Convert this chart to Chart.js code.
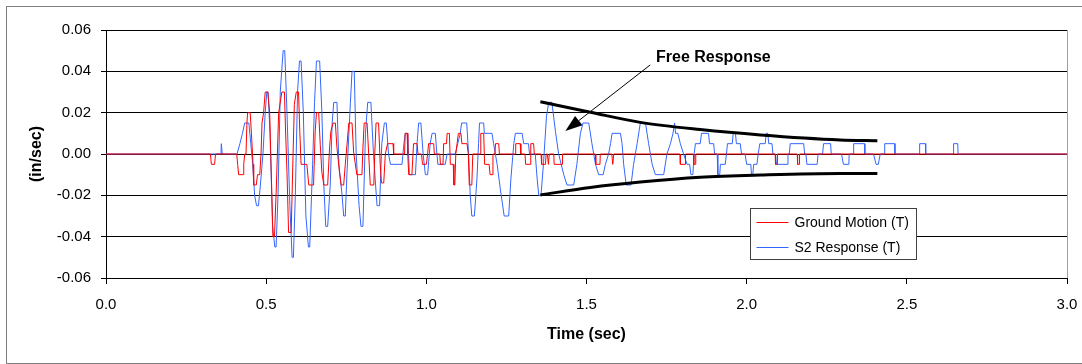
<!DOCTYPE html>
<html lang="en">
<head>
  <meta charset="UTF-8">
  <title>Free Response</title>
  <script src="https://cdn.jsdelivr.net/npm/chart.js"></script>
  <style>
    body { margin: 0; background: #fff; overflow: hidden; }
    .frame { position: absolute; left: 6px; top: 6px; width: 1100px; height: 356px; border: 1px solid #808080; }
    #chart { position: absolute; left: 0; top: 0; }
  </style>
</head>
<body>
  <div class="frame"></div>
  <canvas id="chart" width="1082" height="364"></canvas>

  <script>
    // Ground motion (T), breakpoints
    const groundTime = [0, 0.326, 0.329, 0.339, 0.342, 0.408, 0.411, 0.414, 0.428, 0.430, 0.433, 0.437, 0.440, 0.442, 0.450, 0.454, 0.459, 0.461, 0.469, 0.473,
      0.480, 0.484, 0.487, 0.492, 0.497, 0.505, 0.511, 0.513, 0.518, 0.521, 0.526, 0.532, 0.539, 0.546, 0.549, 0.557, 0.560, 0.565, 0.570, 0.578,
      0.584, 0.588, 0.594, 0.601, 0.605, 0.609, 0.627, 0.633, 0.648, 0.653, 0.657, 0.664, 0.669, 0.674, 0.680, 0.692, 0.698, 0.702, 0.709, 0.716,
      0.721, 0.729, 0.734, 0.742, 0.747, 0.752, 0.758, 0.768, 0.773, 0.783, 0.799, 0.802, 0.806, 0.815, 0.820, 0.825, 0.836, 0.839, 0.843, 0.851,
      0.856, 0.860, 0.867, 0.872, 0.879, 0.896, 0.898, 0.932, 0.934, 0.940, 0.942, 0.945, 0.955, 0.960, 0.971, 0.974, 0.985, 0.988, 1.000, 1.004,
      1.007, 1.023, 1.025, 1.042, 1.044, 1.052, 1.054, 1.063, 1.065, 1.072, 1.075, 1.084, 1.086, 1.089, 1.092, 1.096, 1.100, 1.108, 1.111, 1.127,
      1.131, 1.134, 1.142, 1.145, 1.168, 1.170, 1.179, 1.182, 1.196, 1.199, 1.205, 1.208, 1.214, 1.216, 1.226, 1.228, 1.277, 1.279, 1.293, 1.295,
      1.308, 1.310, 1.324, 1.326, 1.335, 1.337, 1.358, 1.360, 1.372, 1.374, 1.378, 1.381, 1.384, 1.398, 1.399, 1.424, 1.425, 1.528, 1.529, 1.542,
      1.543, 1.579, 1.582, 1.585, 1.792, 1.793, 1.808, 1.809, 1.834, 1.835, 1.840, 1.841, 2.089, 2.090, 2.095, 2.096, 2.158, 2.159, 2.164, 2.165, 3.0];
    const groundVel = [0, 0, -0.005, -0.005, 0, 0, -0.005, -0.01, -0.01, -0.005, 0, 0, 0.015, 0.02, 0.02, 0.01, -0.005, -0.015, -0.015, -0.01,
      -0.01, 0, 0.015, 0.02, 0.03, 0.03, 0.02, 0.008, -0.021, -0.04, -0.04, -0.015, 0.02, 0.027, 0.03, 0.03, 0.014, -0.009, -0.038, -0.038,
      0, 0.024, 0.03, 0.03, 0.011, -0.005, -0.005, -0.015, -0.015, 0.011, 0.02, 0.02, 0.004, -0.009, -0.015, -0.015, 0.003, 0.011, 0.015, 0.015,
      0.003, -0.009, -0.015, -0.015, -0.005, 0.004, 0.015, 0.015, 0.001, -0.01, -0.01, 0.003, 0.015, 0.015, 0, -0.015, -0.015, 0, 0.015, 0.015,
      -0.005, -0.014, -0.014, 0, 0.005, 0.005, 0, 0, 0.01, 0.01, 0, -0.01, -0.01, 0.005, 0.005, 0, 0, -0.005, -0.005, 0,
      0.005, 0.005, 0, 0, -0.005, -0.005, 0.005, 0.005, 0.01, 0.01, -0.005, -0.005, -0.015, -0.015, 0, 0.005, 0.01, 0.01, 0.005, 0.005,
      0, -0.015, -0.015, 0, 0, 0.01, 0.01, -0.005, -0.005, -0.01, -0.01, 0, 0, 0.005, 0.005, 0, 0, 0.005, 0.005, 0,
      0, -0.005, -0.005, 0.005, 0.005, 0, 0, -0.005, -0.005, 0, 0, -0.005, 0, 0, -0.005, -0.005, 0, 0, -0.005, -0.005,
      0, 0, -0.005, 0, 0, -0.005, -0.005, 0, 0, -0.005, -0.005, 0, 0, -0.005, -0.005, 0, 0, -0.005, -0.005, 0, 0];

    // S2 response (T)
    const responseTime = [0, 0.359, 0.360, 0.362, 0.363, 0.409, 0.418, 0.426, 0.433, 0.446, 0.452, 0.458, 0.464, 0.470, 0.476, 0.482, 0.490, 0.497, 0.502, 0.506,
      0.512, 0.520, 0.527, 0.531, 0.537, 0.544, 0.553, 0.558, 0.565, 0.574, 0.581, 0.585, 0.591, 0.598, 0.604, 0.609, 0.616, 0.624, 0.632, 0.636,
      0.645, 0.651, 0.657, 0.667, 0.674, 0.680, 0.686, 0.692, 0.700, 0.706, 0.711, 0.721, 0.727, 0.737, 0.742, 0.747, 0.752, 0.763, 0.768, 0.775,
      0.781, 0.790, 0.796, 0.802, 0.810, 0.817, 0.827, 0.835, 0.846, 0.854, 0.861, 0.869, 0.875, 0.882, 0.888, 0.924, 0.930, 0.934, 0.942, 0.947,
      0.966, 0.971, 0.976, 0.983, 0.990, 0.997, 1.004, 1.012, 1.018, 1.028, 1.033, 1.036, 1.059, 1.065, 1.090, 1.098, 1.106, 1.110, 1.126, 1.132,
      1.137, 1.142, 1.150, 1.158, 1.163, 1.166, 1.179, 1.181, 1.205, 1.210, 1.221, 1.231, 1.243, 1.257, 1.264, 1.273, 1.278, 1.299, 1.304, 1.319,
      1.322, 1.340, 1.346, 1.351, 1.358, 1.366, 1.375, 1.382, 1.392, 1.403, 1.413, 1.429, 1.439, 1.460, 1.470, 1.481, 1.489, 1.507, 1.517, 1.528,
      1.538, 1.552, 1.559, 1.569, 1.575, 1.580, 1.606, 1.611, 1.616, 1.624, 1.639, 1.647, 1.658, 1.668, 1.684, 1.694, 1.705, 1.715, 1.741, 1.751,
      1.762, 1.770, 1.775, 1.778, 1.785, 1.793, 1.803, 1.814, 1.822, 1.826, 1.832, 1.836, 1.840, 1.855, 1.859, 1.881, 1.884, 1.897, 1.900, 1.908,
      1.910, 1.916, 1.918, 1.933, 1.937, 1.940, 1.955, 1.958, 1.965, 1.968, 1.980, 1.984, 1.995, 2.000, 2.013, 2.015, 2.019, 2.022, 2.032, 2.036,
      2.041, 2.058, 2.061, 2.066, 2.069, 2.079, 2.082, 2.090, 2.093, 2.126, 2.129, 2.133, 2.136, 2.178, 2.181, 2.185, 2.188, 2.220, 2.223, 2.237,
      2.240, 2.262, 2.264, 2.296, 2.302, 2.319, 2.320, 2.333, 2.334, 2.368, 2.369, 2.396, 2.404, 2.411, 2.417, 2.430, 2.431, 2.462, 2.463, 2.539,
      2.540, 2.558, 2.559, 2.645, 2.646, 2.659, 2.660, 3.0];
    const responseVel = [0, 0, 0.005, 0.005, 0, 0, 0.005, 0.01, 0.015, 0.015, 0.005, -0.005, -0.02, -0.025, -0.025, -0.015, 0, 0.02, 0.03, 0.03,
      0.01, -0.035, -0.045, -0.045, -0.02, 0.03, 0.05, 0.05, 0.02, -0.025, -0.05, -0.05, -0.02, 0.03, 0.045, 0.045, 0.02, -0.03, -0.045, -0.045,
      -0.005, 0.025, 0.045, 0.045, 0.02, -0.015, -0.035, -0.035, -0.015, 0.015, 0.025, 0.025, -0.005, -0.02, -0.03, -0.03, -0.01, 0.025, 0.04, 0.04,
      0, -0.025, -0.035, -0.035, 0.01, 0.025, 0.025, 0, -0.025, -0.025, 0.005, 0.015, 0.015, 0, -0.005, -0.005, 0.005, 0.01, 0.01, -0.01,
      -0.01, 0.005, 0.015, 0.015, 0, -0.01, -0.01, 0.005, 0.01, 0.01, 0, -0.005, -0.005, 0, 0, 0.005, 0.01, 0.015, 0.015, 0,
      -0.02, -0.03, -0.03, -0.012, 0.005, 0.015, 0.015, 0.01, 0.01, 0.005, -0.005, -0.017, -0.03, -0.03, -0.012, 0.005, 0.01, 0.01, 0.005, 0.005,
      0, 0, -0.012, -0.02, -0.02, -0.004, 0.018, 0.025, 0.025, 0.011, 0, -0.01, -0.015, -0.015, -0.005, 0.01, 0.015, 0.015, 0.005, -0.005,
      -0.01, -0.01, -0.005, 0, 0.005, 0.01, 0.01, 0.005, -0.005, -0.015, -0.015, -0.005, 0.005, 0.015, 0.015, 0.005, -0.005, -0.01, -0.01, 0,
      0.005, 0.01, 0.015, 0.01, 0.01, 0.005, 0, -0.005, -0.005, -0.01, -0.01, 0, 0.005, 0.005, 0.01, 0.01, 0.005, 0.005, 0, 0,
      -0.01, -0.01, -0.005, -0.005, 0, 0.005, 0.005, 0.01, 0.01, 0.005, 0.005, 0, 0, -0.005, -0.005, -0.01, -0.01, -0.005, -0.005, 0,
      0.005, 0.005, 0.01, 0.01, 0.005, 0.005, 0, 0, -0.005, -0.005, 0, 0, 0.005, 0.005, 0, 0, -0.005, -0.005, 0, 0,
      0.005, 0.005, 0, 0, -0.005, -0.005, 0, 0, 0.005, 0.005, 0, 0, -0.005, -0.005, 0, 0, 0.005, 0.005, 0, 0,
      0.005, 0.005, 0, 0, 0.005, 0.005, 0, 0];

    // decay envelope drawn over the free response
    const envelopeTime = [1.356, 1.512, 1.668, 1.855, 2.043, 2.292, 2.408];
    const envelopeUpper = [0.0253, 0.0202, 0.0153, 0.0118, 0.0092, 0.0068, 0.0064];
    const envelopeLower = [-0.0198, -0.0162, -0.0136, -0.0113, -0.0102, -0.0094, -0.0094];

    // annotation: label position and arrow (start -> tip), in data units
    const noteText = 'Free Response';
    const notePos = [1.896, 0.0465];
    const arrowFrom = [1.699, 0.0431];
    const arrowTo = [1.434, 0.0111];

    const xTicks = [0, 3, 0.5];     // min, max, step
    const yTicks = [-0.06, 0.06, 0.02];

    const FONT = "'Liberation Sans', Arial, sans-serif";

    const pts = (xs, ys) => xs.map((x, i) => ({ x: x, y: ys[i] }));

    // frame line on right of the plot area + legend box + arrow label
    const extras = {
      id: 'extras',
      beforeDatasetsDraw(chart) {
        const { ctx, chartArea } = chart;
        ctx.save();
        ctx.strokeStyle = '#a0a0a0';
        ctx.lineWidth = 1;
        ctx.beginPath();
        ctx.moveTo(Math.round(chartArea.right) + 0.5, chartArea.top);
        ctx.lineTo(Math.round(chartArea.right) + 0.5, chartArea.bottom);
        ctx.stroke();
        ctx.restore();
      },
      afterDatasetsDraw(chart) {
        const { ctx, scales } = chart;
        const xs = scales.x, ys = scales.y;
        ctx.save();

        // arrow
        const x0 = xs.getPixelForValue(arrowFrom[0]), y0 = ys.getPixelForValue(arrowFrom[1]);
        const x1 = xs.getPixelForValue(arrowTo[0]), y1 = ys.getPixelForValue(arrowTo[1]);
        const ang = Math.atan2(y1 - y0, x1 - x0);
        const headLen = 17, headW = 6;
        const bx = x1 - headLen * Math.cos(ang), by = y1 - headLen * Math.sin(ang);
        ctx.strokeStyle = '#000';
        ctx.fillStyle = '#000';
        ctx.lineWidth = 1;
        ctx.beginPath();
        ctx.moveTo(x0, y0);
        ctx.lineTo(bx, by);
        ctx.stroke();
        ctx.beginPath();
        ctx.moveTo(x1, y1);
        ctx.lineTo(bx + headW * Math.sin(ang), by - headW * Math.cos(ang));
        ctx.lineTo(bx - headW * Math.sin(ang), by + headW * Math.cos(ang));
        ctx.closePath();
        ctx.fill();

        // label
        ctx.font = 'bold 16px ' + FONT;
        ctx.textAlign = 'center';
        ctx.textBaseline = 'middle';
        ctx.fillText(noteText, xs.getPixelForValue(notePos[0]), ys.getPixelForValue(notePos[1]));

        // legend
        const items = chart.data.datasets.filter(d => d.showInLegend);
        ctx.font = '14px ' + FONT;
        const textW = Math.max(...items.map(d => ctx.measureText(d.label).width));
        const lx = 750.5, ly = 208.5, rowH = 25.6;
        const boxW = Math.round(44 + textW + 8), boxH = 51;
        ctx.fillStyle = '#fff';
        ctx.fillRect(lx, ly, boxW, boxH);
        ctx.strokeStyle = '#404040';
        ctx.strokeRect(lx, ly, boxW, boxH);
        ctx.textAlign = 'left';
        items.forEach((d, i) => {
          const yy = ly + 13.2 + i * rowH;
          ctx.strokeStyle = d.borderColor;
          ctx.lineWidth = 1;
          ctx.beginPath();
          ctx.moveTo(lx + 6, Math.round(yy) + 0.5);
          ctx.lineTo(lx + 38, Math.round(yy) + 0.5);
          ctx.stroke();
          ctx.fillStyle = '#000';
          ctx.fillText(d.label, lx + 44, yy + 1);
        });
        ctx.restore();
      }
    };

    new Chart(document.getElementById('chart'), {
      type: 'line',
      data: {
        datasets: [
          {
            label: 'Upper envelope', data: pts(envelopeTime, envelopeUpper),
            borderColor: '#000', borderWidth: 3, cubicInterpolationMode: 'monotone', order: 0
          },
          {
            label: 'Lower envelope', data: pts(envelopeTime, envelopeLower),
            borderColor: '#000', borderWidth: 3, cubicInterpolationMode: 'monotone', order: 0
          },
          {
            label: 'Ground Motion (T)', data: pts(groundTime, groundVel), showInLegend: true,
            borderColor: '#ff0000', borderWidth: 1, order: 1
          },
          {
            label: 'S2 Response (T)', data: pts(responseTime, responseVel), showInLegend: true,
            borderColor: '#3366ff', borderWidth: 1, order: 2
          }
        ]
      },
      options: {
        responsive: false,
        animation: false,
        devicePixelRatio: 1,
        elements: { point: { radius: 0 }, line: { tension: 0 } },
        layout: { padding: { left: 0, top: 30, right: 15, bottom: 6 } },
        plugins: { legend: { display: false }, tooltip: { enabled: false } },
        scales: {
          x: {
            type: 'linear',
            min: xTicks[0], max: xTicks[1],
            afterFit: s => { s.height = 80; s.paddingLeft = 0; s.paddingRight = 0; },
            ticks: {
              stepSize: xTicks[2], color: '#000', padding: 12,
              font: { family: FONT, size: 15 },
              callback: v => v.toFixed(1)
            },
            grid: { drawOnChartArea: false, drawTicks: true, tickLength: 6, color: '#000' },
            border: { display: true, color: '#000' },
            title: {
              display: true, text: 'Time (sec)', color: '#000',
              font: { family: FONT, size: 16, weight: 'bold' },
              padding: { top: 0, bottom: 14 }
            }
          },
          y: {
            min: yTicks[0], max: yTicks[1],
            afterFit: s => { s.width = 106; },
            ticks: {
              stepSize: yTicks[2], color: '#000', padding: 10,
              font: { family: FONT, size: 15 },
              callback: v => (Math.abs(v) < 1e-9 ? 0 : v).toFixed(2)
            },
            grid: { color: '#000', tickLength: 5 },
            border: { display: true, color: '#000' },
            title: {
              display: true, text: '(in/sec)', color: '#000',
              font: { family: FONT, size: 16, weight: 'bold' },
              padding: { top: 27, bottom: 0 }
            }
          }
        }
      },
      plugins: [extras]
    });
  </script>
</body>
</html>
